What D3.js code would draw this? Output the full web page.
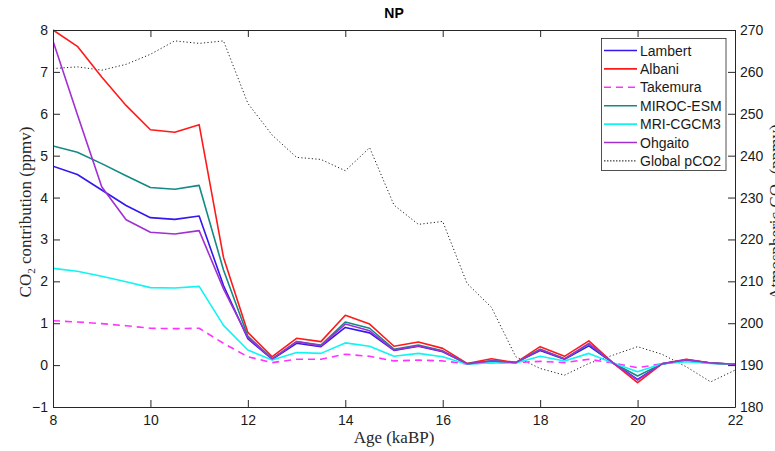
<!DOCTYPE html>
<html><head><meta charset="utf-8">
<script src="https://cdn.jsdelivr.net/npm/d3@7"></script>
<style>body{margin:0;background:#fff}svg{display:block}</style>
</head><body>
<svg id="chart" width="775" height="451"></svg>
<script>
const ages = [8,8.5,9,9.5,10,10.5,11,11.5,12,12.5,13,13.5,14,14.5,15,15.5,16,16.5,17,17.5,18,18.5,19,19.5,20,20.5,21,21.5,22];
const lambert  = [4.75,4.55,4.18,3.81,3.52,3.48,3.56,1.90,0.63,0.14,0.52,0.44,0.90,0.77,0.35,0.45,0.32,0.03,0.10,0.06,0.35,0.14,0.46,0.05,-0.34,0.03,0.12,0.05,0.02];
const albani   = [8.00,7.61,6.88,6.20,5.62,5.56,5.74,2.57,0.78,0.20,0.64,0.56,1.19,0.98,0.45,0.55,0.40,0.04,0.15,0.06,0.44,0.21,0.58,0.05,-0.42,0.03,0.14,0.05,0.02];
const takemura = [1.06,1.03,0.99,0.94,0.88,0.87,0.88,0.52,0.20,0.06,0.14,0.14,0.26,0.21,0.10,0.12,0.10,0.03,0.06,0.06,0.09,0.06,0.14,0.05,-0.06,0.03,0.10,0.04,0.02];
const miroc    = [5.23,5.08,4.81,4.52,4.24,4.20,4.29,2.27,0.69,0.15,0.56,0.48,1.03,0.88,0.38,0.48,0.34,0.03,0.10,0.06,0.38,0.15,0.50,0.05,-0.26,0.03,0.12,0.05,0.02];
const mri      = [2.31,2.24,2.12,1.99,1.85,1.84,1.88,0.95,0.36,0.12,0.30,0.28,0.53,0.45,0.21,0.28,0.20,0.02,0.06,0.05,0.21,0.10,0.28,0.05,-0.16,0.03,0.08,0.04,0.02];
const ohgaito  = [7.74,5.98,4.26,3.47,3.17,3.13,3.21,1.82,0.66,0.15,0.56,0.46,0.98,0.82,0.36,0.46,0.33,0.03,0.10,0.06,0.37,0.15,0.52,0.05,-0.36,0.03,0.13,0.05,0.02];
const pco2     = [260.8,261.2,260.4,261.8,264.2,267.4,266.8,267.4,252.5,244.9,239.6,239.1,236.4,241.9,228.2,223.6,224.3,209.5,203.8,192.0,189.2,187.6,190.4,192.4,194.4,192.6,189.6,186.0,188.8];

const seriesNames  = ["Lambert","Albani","Takemura","MIROC-ESM","MRI-CGCM3","Ohgaito"];
const seriesValues = [lambert, albani, takemura, miroc, mri, ohgaito];
const seriesColors = ["#3318f0","#ff1a1a","#ff33ff","#138a84","#10f4f4","#a030d0"];
const seriesDash   = [null,null,"7,5",null,null,null];

const xTicks = [8,10,12,14,16,18,20,22];
const yTicks = [-1,0,1,2,3,4,5,6,7,8];
const y2Ticks = [180,190,200,210,220,230,240,250,260,270];

const L=53, R=735, T=30, B=407;
const svg = d3.select("#chart");
const x = d3.scaleLinear().domain([8,22]).range([L,R]);
const y = d3.scaleLinear().domain([-1,8]).range([B,T]);
const y2 = d3.scaleLinear().domain([180,270]).range([B,T]);
const axisColor = "#262626";
const tickFont = "'Liberation Sans', Arial, Helvetica, sans-serif";

svg.append("defs").append("clipPath").attr("id","clip")
  .append("rect").attr("x",L).attr("y",T-2).attr("width",R-L).attr("height",B-T+4);

const plot = svg.append("g").attr("clip-path","url(#clip)");

// pCO2 dotted (right axis)
plot.append("path")
  .datum(ages.map((a,i)=>[a,pco2[i]]))
  .attr("fill","none").attr("stroke","#222").attr("stroke-width",1)
  .attr("stroke-dasharray","1.2,2.3")
  .attr("d", d3.line().x(d=>x(d[0])).y(d=>y2(d[1])));

seriesValues.forEach((vals,k)=>{
  plot.append("path")
    .datum(ages.map((a,i)=>[a,vals[i]]))
    .attr("fill","none").attr("stroke",seriesColors[k]).attr("stroke-width",1.6)
    .attr("stroke-linejoin","round")
    .attr("stroke-dasharray",seriesDash[k])
    .attr("d", d3.line().x(d=>x(d[0])).y(d=>y(d[1])));
});

// Axes (MATLAB style, ticks inward)
const tl = 7;
const gx = svg.append("g").attr("transform",`translate(0,${B})`)
  .call(d3.axisBottom(x).tickValues(xTicks).tickSizeInner(-tl).tickSizeOuter(0).tickPadding(8));
const gxt = svg.append("g").attr("transform",`translate(0,${T})`)
  .call(d3.axisTop(x).tickValues(xTicks).tickSizeInner(-tl).tickSizeOuter(0).tickFormat(""));
const gy = svg.append("g").attr("transform",`translate(${L},0)`)
  .call(d3.axisLeft(y).tickValues(yTicks).tickSizeInner(-tl).tickSizeOuter(0).tickPadding(5));
const gy2 = svg.append("g").attr("transform",`translate(${R},0)`)
  .call(d3.axisRight(y2).tickValues(y2Ticks).tickSizeInner(-tl).tickSizeOuter(0).tickPadding(5));
[gx,gxt,gy,gy2].forEach(g=>{
  g.selectAll("path").attr("stroke",axisColor).attr("stroke-width",1);
  g.selectAll("line").attr("stroke",axisColor).attr("stroke-width",1);
  g.selectAll("text").attr("fill","#1a1a1a").style("font-family",tickFont).style("font-size","14px");
});
gxt.selectAll("text").remove();

// Title
svg.append("text").attr("x",(L+R)/2).attr("y",18).attr("text-anchor","middle")
  .style("font-family",tickFont).style("font-size","14px").style("font-weight","bold").attr("fill","#000").text("NP");

const serif = "'Liberation Serif', 'Times New Roman', serif";
// X label
svg.append("text").attr("x",(L+R)/2).attr("y",443).attr("text-anchor","middle")
  .style("font-family",serif).style("font-size","17px").attr("fill","#262626").text("Age (kaBP)");

// Left Y label
const yl = svg.append("text").attr("transform",`translate(31,212) rotate(-90)`)
  .attr("text-anchor","middle").style("font-family",serif).style("font-size","17px").attr("fill","#262626");
yl.append("tspan").text("CO");
yl.append("tspan").text("2").style("font-size","11px").attr("dy",4);
yl.append("tspan").text(" contribution (ppmv)").attr("dy",-4);

// Right Y label (cut at the page edge, as in the reference)
const yr = svg.append("text").attr("transform",`translate(781,212) rotate(-90)`)
  .attr("text-anchor","middle").style("font-family",serif).style("font-size","17px").attr("fill","#262626");
yr.append("tspan").text("Atmospheric CO");
yr.append("tspan").text("2").style("font-size","11px").attr("dy",4);
yr.append("tspan").text(" (ppmv)").attr("dy",-4);

// Legend
const lg = svg.append("g");
lg.append("rect").attr("x",601.5).attr("y",38.5).attr("width",124.5).attr("height",132)
  .attr("fill","#fff").attr("stroke",axisColor).attr("stroke-width",0.8);
const legNames = seriesNames.concat(["Global pCO2"]);
const legColors = seriesColors.concat(["#111"]);
const legDash = seriesDash.concat(["1.5,1.5"]);
legNames.forEach((n,i)=>{
  const yy = 50.5 + i*18.4;
  lg.append("line").attr("x1",604).attr("x2",637).attr("y1",yy).attr("y2",yy)
    .attr("stroke",legColors[i]).attr("stroke-width", i===6?1:1.6).attr("stroke-dasharray",legDash[i]);
  lg.append("text").attr("x",640).attr("y",yy+5).style("font-family",tickFont).style("font-size","14px")
    .attr("fill","#1a1a1a").text(n);
});
</script>
</body></html>
